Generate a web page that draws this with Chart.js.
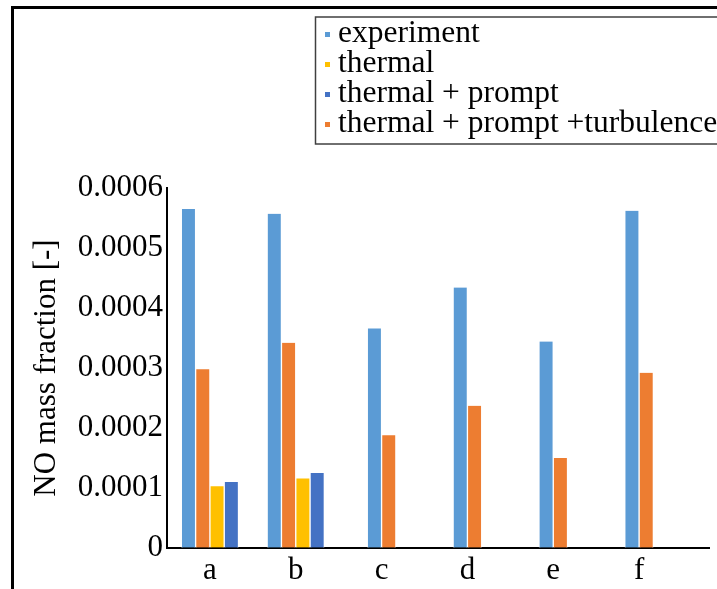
<!DOCTYPE html>
<html>
<head>
<meta charset="utf-8">
<script src="https://cdn.jsdelivr.net/npm/chart.js@4.4.1/dist/chart.umd.min.js"></script>
<style>
  html, body { margin: 0; padding: 0; background: #fff; }
  #wrap { width: 717px; height: 589px; }
</style>
</head>
<body>
<div id="wrap"><canvas id="c" width="717" height="589"></canvas></div>
<script>
// ---- data ----
const categories = ['a', 'b', 'c', 'd', 'e', 'f'];
const experiment = [0.000565, 0.000557, 0.000366, 0.000434, 0.000344, 0.000562];
const thermal = [0.000103, 0.000116, null, null, null, null];
const thermalPrompt = [0.000110, 0.000125, null, null, null, null];
const thermalPromptTurbulence = [0.000298, 0.000342, 0.000188, 0.000237, 0.000150, 0.000292];
const yTickLabels = ['0', '0.0001', '0.0002', '0.0003', '0.0004', '0.0005', '0.0006'];
const seriesNames = ['experiment', 'thermal', 'thermal + prompt', 'thermal + prompt +turbulence'];
const yTitle = 'NO mass fraction [-]';

const FONT = '"Liberation Serif", "Times New Roman", serif';
Chart.defaults.font.family = FONT;
Chart.defaults.color = '#000';

const barBorder = { top: 0, right: 1, bottom: 0, left: 1 };
function ds(label, data, color) {
  return {
    label, data,
    backgroundColor: color,
    borderColor: '#ffffff',
    borderWidth: barBorder,
    borderSkipped: false,
    barThickness: 14.3,
    skipNull: true
  };
}

// bar order in each group: experiment, turbulence, thermal, thermal+prompt
const datasets = [
  ds(seriesNames[0], experiment, '#5B9BD5'),
  ds(seriesNames[3], thermalPromptTurbulence, '#ED7D31'),
  ds(seriesNames[1], thermal, '#FFC000'),
  ds(seriesNames[2], thermalPrompt, '#4472C4')
];
// legend order: experiment, thermal, thermal + prompt, thermal + prompt +turbulence
const legendOrder = [0, 2, 3, 1];

const decor = {
  id: 'decor',
  afterDraw(chart) {
    const ctx = chart.ctx;
    const ca = chart.chartArea;
    ctx.save();
    // outer frame (top + left)
    ctx.fillStyle = '#000';
    ctx.fillRect(11, 6, 720, 3);
    ctx.fillRect(11, 6, 3, 600);
    // extend x axis line to the right
    ctx.strokeStyle = '#000';
    ctx.lineWidth = 2;
    ctx.beginPath();
    ctx.moveTo(ca.right - 1, ca.bottom);
    ctx.lineTo(710, ca.bottom);
    ctx.stroke();
    // legend box
    ctx.strokeStyle = '#404040';
    ctx.lineWidth = 1.5;
    ctx.strokeRect(315.5, 17, 420, 127);
    ctx.font = '31.5px ' + FONT;
    ctx.textBaseline = 'alphabetic';
    ctx.textAlign = 'left';
    legendOrder.forEach((di, i) => {
      const d = chart.data.datasets[di];
      const base = 42 + i * 30;
      ctx.fillStyle = d.backgroundColor;
      ctx.fillRect(325, base - 10, 5, 5);
      ctx.fillStyle = '#000';
      ctx.fillText(d.label, 338, base);
    });
    ctx.restore();
  }
};

new Chart(document.getElementById('c'), {
  type: 'bar',
  data: { labels: categories, datasets },
  options: {
    responsive: false,
    animation: false,
    devicePixelRatio: 1,
    layout: { padding: { top: 188, right: 35, bottom: 0, left: 0 } },
    plugins: { legend: { display: false }, tooltip: { enabled: false } },
    scales: {
      x: {
        offset: true,
        grid: { display: true, drawOnChartArea: false, drawTicks: false },
        border: { display: true, color: '#000', width: 2 },
        ticks: { font: { size: 31 }, color: '#000', padding: 4 },
        afterFit(scale) { scale.height = 41; }
      },
      y: {
        min: 0,
        max: 0.0006,
        grid: { display: true, drawOnChartArea: false, drawTicks: false },
        border: { display: true, color: '#000', width: 2 },
        ticks: {
          stepSize: 0.0001,
          font: { size: 31 },
          color: '#000',
          padding: 4,
          callback: (v, i) => yTickLabels[i]
        },
        title: {
          display: true,
          text: yTitle,
          font: { size: 31 },
          color: '#000',
          padding: { top: 28, bottom: 0 }
        },
        afterFit(scale) { scale.width = 167; }
      }
    }
  },
  plugins: [decor]
});
</script>
</body>
</html>
